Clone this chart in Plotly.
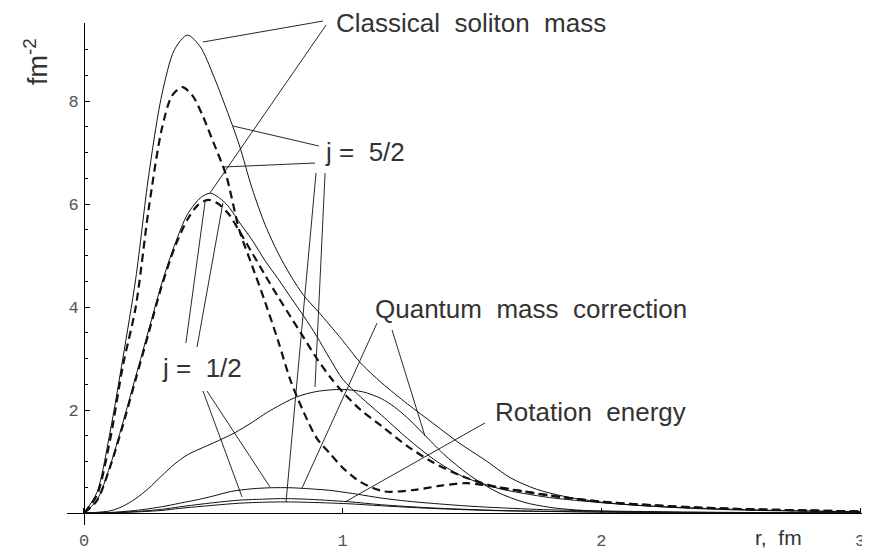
import plotly.graph_objects as go

# ---------------- data ----------------
# Classical soliton mass, j = 5/2 (solid)
r_A = [0, 0.05, 0.1, 0.15, 0.2, 0.25, 0.3, 0.35, 0.4, 0.45, 0.5, 0.55, 0.6, 0.65, 0.7, 0.75, 0.8, 0.85, 0.9, 0.95, 1.0,
       1.07, 1.15, 1.25, 1.35, 1.45, 1.55, 1.65, 1.75, 1.85, 2.0, 2.2, 2.4, 2.6, 2.8, 3.0]
y_A = [0, 0.4, 1.55, 3.0, 4.55, 6.55, 8.1, 9.0, 9.28, 9.05, 8.5, 7.85, 7.15, 6.3, 5.6, 5.05, 4.6, 4.22, 3.94, 3.65, 3.35,
       2.91, 2.53, 2.12, 1.74, 1.36, 1.03, 0.68, 0.46, 0.33, 0.21, 0.13, 0.08, 0.05, 0.035, 0.02]

# Total, j = 5/2 (dashed)
r_B = [0, 0.05, 0.1, 0.15, 0.2, 0.25, 0.3, 0.34, 0.38, 0.42, 0.46, 0.5, 0.55, 0.6, 0.65, 0.7, 0.75, 0.8, 0.85, 0.9,
       0.95, 1.0, 1.07, 1.16, 1.28, 1.38, 1.48, 1.6, 1.7, 1.8, 2.0, 2.2, 2.4, 2.6, 2.8, 3.0]
y_B = [0, 0.35, 1.4, 2.85, 4.0, 5.9, 7.44, 8.1, 8.27, 8.1, 7.7, 7.2, 6.55, 5.5, 4.8, 4.1, 3.35, 2.55, 1.95, 1.45,
       1.16, 0.88, 0.6, 0.42, 0.45, 0.53, 0.58, 0.5, 0.42, 0.34, 0.22, 0.15, 0.1, 0.07, 0.05, 0.03]

# Classical soliton mass, j = 1/2 (solid)
r_C = [0, 0.05, 0.1, 0.15, 0.2, 0.25, 0.3, 0.35, 0.4, 0.45, 0.49, 0.55, 0.6, 0.65, 0.7, 0.75, 0.8, 0.85, 0.9, 0.95, 1.0,
       1.07, 1.15, 1.25, 1.35, 1.46, 1.6, 1.7, 1.8, 2.0, 2.2, 2.4, 2.6, 2.8, 3.0]
y_C = [0, 0.25, 0.9, 1.75, 2.65, 3.55, 4.45, 5.2, 5.8, 6.12, 6.21, 6.0, 5.65, 5.3, 4.9, 4.55, 4.18, 3.82, 3.43, 3.0, 2.6,
       2.25, 1.9, 1.45, 1.05, 0.72, 0.48, 0.38, 0.3, 0.2, 0.13, 0.09, 0.06, 0.04, 0.025]

# Total, j = 1/2 (dashed)
r_D = [0, 0.05, 0.1, 0.15, 0.2, 0.25, 0.3, 0.35, 0.4, 0.44, 0.48, 0.52, 0.56, 0.6, 0.65, 0.7, 0.75, 0.8, 0.85, 0.9,
       0.95, 1.0, 1.07, 1.15, 1.25, 1.35, 1.47, 1.6, 1.7, 1.8, 2.0, 2.2, 2.4, 2.6, 2.8, 3.0]
y_D = [0, 0.24, 0.88, 1.7, 2.6, 3.5, 4.4, 5.15, 5.7, 5.98, 6.08, 6.0, 5.8, 5.48, 5.05, 4.62, 4.2, 3.8, 3.4, 3.0,
       2.65, 2.35, 2.0, 1.69, 1.3, 0.98, 0.7, 0.5, 0.42, 0.34, 0.22, 0.15, 0.1, 0.07, 0.05, 0.03]

# Quantum mass correction, j = 5/2 (solid)
r_E = [0, 0.1, 0.15, 0.2, 0.25, 0.3, 0.35, 0.4, 0.5, 0.58, 0.65, 0.71, 0.82, 0.9, 1.0, 1.08, 1.15, 1.2, 1.25, 1.31,
       1.4, 1.5, 1.6, 1.7, 1.8, 1.9, 2.0, 2.2, 2.5, 3.0]
y_E = [0, 0.04, 0.13, 0.28, 0.48, 0.72, 0.95, 1.13, 1.36, 1.55, 1.76, 1.96, 2.25, 2.36, 2.4, 2.35, 2.22, 2.06, 1.85, 1.55,
       1.1, 0.7, 0.4, 0.21, 0.11, 0.06, 0.035, 0.015, 0.005, 0]

# Quantum mass correction, j = 1/2 (solid)
r_F = [0, 0.1, 0.2, 0.3, 0.37, 0.45, 0.5, 0.57, 0.65, 0.72, 0.8, 0.9, 0.95, 1.05, 1.15, 1.25, 1.34, 1.5, 1.75, 2.0, 2.5, 3.0]
y_F = [0, 0.01, 0.05, 0.12, 0.19, 0.27, 0.33, 0.42, 0.47, 0.49, 0.49, 0.46, 0.44, 0.37, 0.29, 0.23, 0.19, 0.13, 0.07, 0.04, 0.012, 0.004]

# Rotation energy (two close solid curves)
r_G = [0, 0.1, 0.2, 0.3, 0.37, 0.5, 0.6, 0.7, 0.76, 0.85, 1.02, 1.15, 1.34, 1.6, 2.0, 2.5, 3.0]
y_G = [0, 0.005, 0.03, 0.07, 0.12, 0.2, 0.25, 0.27, 0.28, 0.27, 0.22, 0.16, 0.1, 0.05, 0.02, 0.006, 0.002]
y_H = [0, 0.004, 0.02, 0.05, 0.09, 0.15, 0.19, 0.21, 0.215, 0.21, 0.18, 0.14, 0.09, 0.045, 0.018, 0.005, 0.002]

x_ticks = [0, 1, 2, 3]
y_ticks = [2, 4, 6, 8]

XR = [-0.0657, 3.0077]
YR = [-0.233, 9.515]

# labels: (text, r, y) left-anchored
labels = [
    ("Classical  soliton  mass", 0.966, 9.515),
    ("j =  5/2", 0.924, 7.01),
    ("Quantum  mass  correction", 1.117, 3.96),
    ("Rotation  energy", 1.581, 1.961),
    ("j =  1/2", 0.294, 2.816),
]
# leader lines: (r0, y0, r1, y1)
leaders = [
    (0.924, 9.553, 0.460, 9.146),
    (0.936, 9.476, 0.487, 6.214),
    (0.9085, 7.126, 0.576, 7.515),
    (0.893, 6.796, 0.537, 6.718),
    (0.897, 6.602, 0.781, 0.214),
    (0.932, 6.602, 0.893, 2.447),
    (1.133, 3.689, 0.843, 0.485),
    (1.191, 3.553, 1.318, 1.495),
    (1.550, 1.748, 1.009, 0.214),
    (0.394, 3.301, 0.468, 6.039),
    (0.437, 3.223, 0.537, 6.019),
    (0.460, 2.369, 0.611, 0.311),
    (0.4755, 2.369, 0.719, 0.505),
]


def to_px(r):
    return (r - XR[0]) / (XR[1] - XR[0])


def to_py(y):
    return (y - YR[0]) / (YR[1] - YR[0])


fig = go.Figure()
solid = dict(color="#111111", width=1.0)
dashed = dict(color="#111111", width=2.2, dash="8px,5px")

for rr, yy, ln in [
    (r_E, y_E, solid), (r_F, y_F, solid), (r_G, y_G, solid), (r_G, y_H, solid),
    (r_C, y_C, solid), (r_A, y_A, solid), (r_D, y_D, dashed), (r_B, y_B, dashed),
]:
    fig.add_trace(go.Scatter(x=rr, y=yy, mode="lines", line=dict(shape="spline", smoothing=0.8, **ln),
                             hoverinfo="skip", showlegend=False))

shapes = []
for r0, y0, r1, y1 in leaders:
    shapes.append(dict(type="line", xref="paper", yref="paper", x0=to_px(r0), y0=to_py(y0),
                       x1=to_px(r1), y1=to_py(y1), line=dict(color="#111111", width=0.9)))

annotations = []
for t, r, y in labels:
    annotations.append(dict(text=t, xref="paper", yref="paper", x=to_px(r), y=to_py(y), xanchor="left",
                            yanchor="middle", showarrow=False,
                            font=dict(family="Liberation Sans, Arial", size=26, color="#333333")))

annotations.append(dict(text="fm<sup>-2</sup>", xref="paper", yref="paper", x=(36 - 67) / 795, y=(525 - 62) / 502,
                        textangle=-90, xanchor="center", yanchor="middle", showarrow=False,
                        font=dict(family="Liberation Sans, Arial", size=27, color="#333333")))
annotations.append(dict(text="r,  fm", xref="paper", yref="paper", x=(778 - 67) / 795, y=(525 - 537) / 502,
                        xanchor="center", yanchor="middle", showarrow=False, borderpad=0,
                        font=dict(family="Liberation Sans, Arial", size=21, color="#333333")))

# page body has an 8px margin: figure is drawn at (8, 8) in the window
fig.update_layout(
    width=862, height=542,
    margin=dict(l=59, r=8, t=15, b=25, pad=0, autoexpand=False),
    paper_bgcolor="white", plot_bgcolor="white",
    shapes=shapes, annotations=annotations,
    xaxis=dict(range=XR, showgrid=False, zeroline=False, showline=True, linecolor="black", linewidth=1,
               anchor="free", position=to_py(0), ticks="inside", ticklen=5, tickcolor="black",
               automargin=False,
               tickmode="array", tickvals=x_ticks, ticktext=[str(v) for v in x_ticks],
               tickfont=dict(family="Liberation Mono, Courier New", size=17, color="#555555"),
               ticklabelstandoff=12),
    yaxis=dict(range=YR, showgrid=False, zeroline=False, showline=True, linecolor="black", linewidth=1,
               anchor="free", position=to_px(0), ticks="inside", ticklen=5, tickcolor="black",
               automargin=False,
               tickmode="array", tickvals=y_ticks, ticktext=[str(v) for v in y_ticks],
               tickfont=dict(family="Liberation Mono, Courier New", size=17, color="#555555"),
               ticklabelstandoff=2,
               minor=dict(tickmode="linear", tick0=0, dtick=0.5, ticks="inside", ticklen=3, tickcolor="black")),
)

fig.write_html("out.html")
